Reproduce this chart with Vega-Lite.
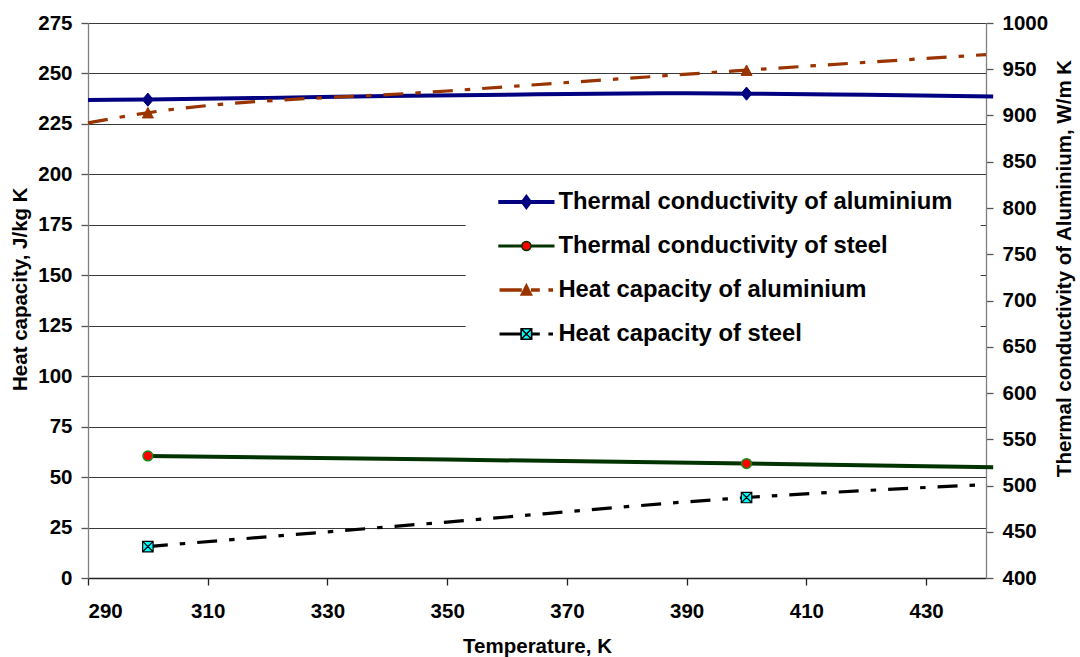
{
  "$schema": "https://vega.github.io/schema/vega-lite/v6.json",
  "width": 898,
  "height": 555,
  "autosize": {"type": "none"},
  "padding": {"left": 88, "top": 23, "right": 94, "bottom": 79},
  "background": "white",
  "datasets": {
    "curves": [
      {"series": "Thermal conductivity of aluminium", "T": 290, "value": 236.9},
      {"series": "Thermal conductivity of aluminium", "T": 300, "value": 237.1},
      {"series": "Thermal conductivity of aluminium", "T": 320, "value": 237.9},
      {"series": "Thermal conductivity of aluminium", "T": 340, "value": 238.8},
      {"series": "Thermal conductivity of aluminium", "T": 360, "value": 239.5},
      {"series": "Thermal conductivity of aluminium", "T": 380, "value": 240.1},
      {"series": "Thermal conductivity of aluminium", "T": 390, "value": 240.2},
      {"series": "Thermal conductivity of aluminium", "T": 400, "value": 240.0},
      {"series": "Thermal conductivity of aluminium", "T": 420, "value": 239.4},
      {"series": "Thermal conductivity of aluminium", "T": 441.2, "value": 238.6},
      {"series": "Thermal conductivity of steel", "T": 300, "value": 60.5},
      {"series": "Thermal conductivity of steel", "T": 350, "value": 58.7},
      {"series": "Thermal conductivity of steel", "T": 400, "value": 56.7},
      {"series": "Thermal conductivity of steel", "T": 441.2, "value": 54.9},
      {"series": "Heat capacity of aluminium", "T": 290, "value": 892},
      {"series": "Heat capacity of aluminium", "T": 300, "value": 903},
      {"series": "Heat capacity of aluminium", "T": 350, "value": 926.5},
      {"series": "Heat capacity of aluminium", "T": 400, "value": 949},
      {"series": "Heat capacity of aluminium", "T": 440, "value": 965.8},
      {"series": "Heat capacity of steel", "T": 300, "value": 434},
      {"series": "Heat capacity of steel", "T": 350, "value": 460.5},
      {"series": "Heat capacity of steel", "T": 400, "value": 487},
      {"series": "Heat capacity of steel", "T": 440, "value": 501}
    ],
    "points": [
      {"series": "Thermal conductivity of aluminium", "T": 300, "value": 237},
      {"series": "Thermal conductivity of aluminium", "T": 400, "value": 240},
      {"series": "Thermal conductivity of steel", "T": 300, "value": 60.5},
      {"series": "Thermal conductivity of steel", "T": 400, "value": 56.7},
      {"series": "Heat capacity of aluminium", "T": 300, "value": 903},
      {"series": "Heat capacity of aluminium", "T": 400, "value": 949},
      {"series": "Heat capacity of steel", "T": 300, "value": 434},
      {"series": "Heat capacity of steel", "T": 400, "value": 487}
    ]
  },
  "config": {
    "view": {"stroke": null},
    "font": "Liberation Sans",
    "axis": {
      "labelFont": "Liberation Sans",
      "labelFontSize": 20.5,
      "labelFontWeight": "bold",
      "labelColor": "black",
      "titleFont": "Liberation Sans",
      "titleFontSize": 20.5,
      "titleFontWeight": "bold",
      "titleColor": "black",
      "tickSize": 7,
      "tickWidth": 1.3,
      "domainWidth": 1.3
    },
    "legend": {
      "orient": "none",
      "legendX": 377.7,
      "legendY": 158,
      "fillColor": "white",
      "padding": 8,
      "symbolSize": 576,
      "symbolStrokeWidth": 1.6,
      "symbolOffset": 39.7,
      "labelOffset": 19,
      "labelFont": "Liberation Sans",
      "labelFontSize": 23.8,
      "labelFontWeight": "bold",
      "labelColor": "black",
      "labelLimit": 0,
      "rowPadding": 19,
      "symbolOpacity": 1,
      "titleOrient": "right",
      "titlePadding": 20,
      "titleFontSize": 2,
      "titleColor": "white"
    }
  },
  "encoding": {
    "x": {
      "field": "T",
      "type": "quantitative",
      "scale": {"domain": [290, 440], "nice": false, "zero": false},
      "axis": {
        "values": [290, 310, 330, 350, 370, 390, 410, 430],
        "title": "Temperature, K",
        "grid": false,
        "labelPadding": 16.5,
        "domainColor": "#222222",
        "tickColor": "#222222",
        "titleY": 58,
        "titleBaseline": "top"
      }
    }
  },
  "layer": [
    {
      "encoding": {
        "y": {
          "field": "value",
          "type": "quantitative",
          "scale": {"domain": [0, 275], "nice": false, "zero": false},
          "axis": {
            "values": [0, 25, 50, 75, 100, 125, 150, 175, 200, 225, 250, 275],
            "title": "Heat capacity, J/kg K",
            "grid": true,
            "gridColor": "#3a3a3a",
            "gridWidth": 1.2,
            "domainColor": "#808080",
            "tickColor": "#555555",
            "labelPadding": 9,
            "titleX": -68,
            "titleY": 265.7,
            "titleBaseline": "middle"
          }
        }
      },
      "layer": [
        {
          "data": {"name": "curves"},
          "transform": [{"filter": {"field": "series", "equal": "Thermal conductivity of aluminium"}}],
          "mark": {"type": "line", "interpolate": "monotone", "color": "#000080", "strokeWidth": 4, "strokeCap": "butt"}
        },
        {
          "data": {"name": "curves"},
          "transform": [{"filter": {"field": "series", "equal": "Thermal conductivity of steel"}}],
          "mark": {"type": "line", "interpolate": "monotone", "color": "#003300", "strokeWidth": 4, "strokeCap": "butt"}
        },
        {
          "data": {"name": "points"},
          "transform": [{"filter": {"field": "series", "equal": "Thermal conductivity of aluminium"}}],
          "mark": {"type": "point", "filled": true, "shape": "M0,-1.2L1,0L0,1.2L-1,0Z", "size": 120, "fill": "#000080", "stroke": "#000080", "strokeWidth": 1, "opacity": 1}
        },
        {
          "data": {"name": "points"},
          "transform": [{"filter": {"field": "series", "equal": "Thermal conductivity of steel"}}],
          "mark": {"type": "point", "filled": true, "shape": "circle", "size": 95, "fill": "#FF0000", "stroke": "#1a8a1a", "strokeWidth": 1.5, "opacity": 1}
        },
        {
          "data": {"name": "points"},
          "transform": [{"filter": "false"}],
          "mark": {"type": "point", "filled": true, "strokeWidth": 1.6},
          "encoding": {
            "fill": {
              "field": "series",
              "type": "nominal",
              "title": "\u00a0",
              "scale": {
                "domain": ["Thermal conductivity of aluminium", "Thermal conductivity of steel", "Heat capacity of aluminium", "Heat capacity of steel"],
                "range": ["#000080", "#FF0000", "#993300", "#00FFFF"]
              }
            },
            "stroke": {
              "field": "series",
              "type": "nominal",
              "title": "\u00a0",
              "scale": {
                "domain": ["Thermal conductivity of aluminium", "Thermal conductivity of steel", "Heat capacity of aluminium", "Heat capacity of steel"],
                "range": ["#000080", "#003300", "#993300", "#000000"]
              }
            },
            "shape": {
              "field": "series",
              "type": "nominal",
              "title": "\u00a0",
              "scale": {
                "domain": ["Thermal conductivity of aluminium", "Thermal conductivity of steel", "Heat capacity of aluminium", "Heat capacity of steel"],
                "range": [
                  "M-2.275,-0.1H-0.4V0.1H-2.275Z M0.4,-0.1H2.275V0.1H0.4Z M0,-0.56L0.41,0L0,0.56L-0.41,0Z",
                  "M-2.275,-0.06H-0.38V0.06H-2.275Z M0.38,-0.06H2.275V0.06H0.38Z M-0.38,0A0.38,0.38,0,1,0,0.38,0A0.38,0.38,0,1,0,-0.38,0Z",
                  "M-2.17,-0.07H-0.45V0.07H-2.17Z M0.45,-0.07H1.05V0.07H0.45Z M1.9,-0.07H2.15V0.07H1.9Z M0,-0.45L0.44,0.42L-0.44,0.42Z",
                  "M-2.17,-0.06H-0.44V0.06H-2.17Z M0.44,-0.06H1.05V0.06H0.44Z M1.9,-0.06H2.15V0.06H1.9Z M-0.44,-0.44H0.44V0.44H-0.44Z M-0.44,-0.44L0.44,0.44 M0.44,-0.44L-0.44,0.44"
                ]
              }
            }
          }
        }
      ]
    },
    {
      "encoding": {
        "y": {
          "field": "value",
          "type": "quantitative",
          "scale": {"domain": [400, 1000], "nice": false, "zero": false},
          "axis": {
            "orient": "right",
            "values": [400, 450, 500, 550, 600, 650, 700, 750, 800, 850, 900, 950, 1000],
            "format": "d",
            "title": "Thermal conductivity of Aluminium, W/m K",
            "grid": false,
            "domainColor": "#808080",
            "tickColor": "#555555",
            "labelPadding": 9,
            "titleAngle": -90,
            "titleX": 78.7,
            "titleY": 245,
            "titleBaseline": "middle"
          }
        }
      },
      "layer": [
        {
          "data": {"name": "curves"},
          "transform": [{"filter": {"field": "series", "equal": "Heat capacity of aluminium"}}],
          "mark": {"type": "line", "interpolate": "monotone", "color": "#993300", "strokeWidth": 3.2, "strokeCap": "butt", "strokeDash": [20, 12, 5.5, 12]}
        },
        {
          "data": {"name": "curves"},
          "transform": [{"filter": {"field": "series", "equal": "Heat capacity of steel"}}],
          "mark": {"type": "line", "interpolate": "monotone", "color": "#000000", "strokeWidth": 3.2, "strokeCap": "butt", "strokeDash": [20, 12, 5.5, 12]}
        },
        {
          "data": {"name": "points"},
          "transform": [{"filter": {"field": "series", "equal": "Heat capacity of aluminium"}}],
          "mark": {"type": "point", "filled": true, "shape": "M0,-0.95L1,0.95L-1,0.95Z", "size": 121, "fill": "#993300", "stroke": "#993300", "strokeWidth": 1, "opacity": 1}
        },
        {
          "data": {"name": "points"},
          "transform": [{"filter": {"field": "series", "equal": "Heat capacity of steel"}}],
          "mark": {"type": "point", "filled": true, "shape": "M-1,-1H1V1H-1Z M-1,-1L1,1 M1,-1L-1,1", "size": 110, "fill": "#00FFFF", "stroke": "#000000", "strokeWidth": 1.2, "opacity": 1}
        }
      ]
    }
  ],
  "resolve": {"scale": {"y": "independent"}}
}
